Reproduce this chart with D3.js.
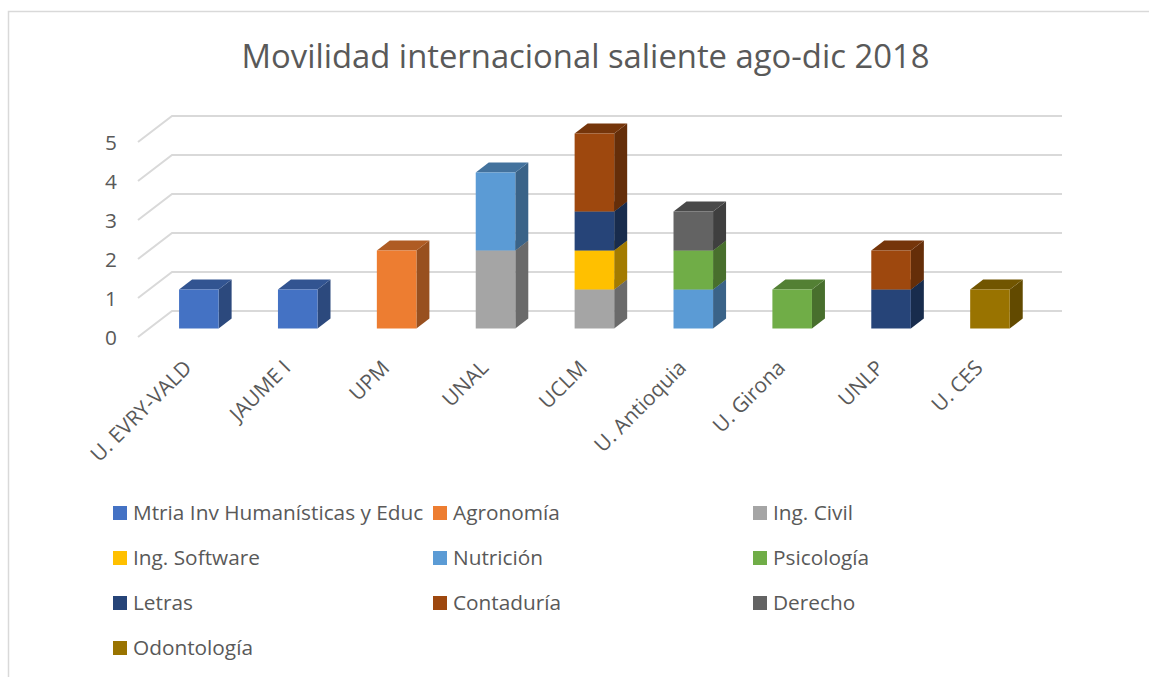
<!DOCTYPE html>
<html><head><meta charset="utf-8"><style>
html,body{margin:0;padding:0;background:#fff}
svg{display:block}
text{font-family:"Open Sans","Noto Sans",sans-serif;fill:#595959}
</style></head><body>
<script src="https://cdn.jsdelivr.net/npm/d3@7"></script>
<script>
const titleText = "Movilidad internacional saliente ago-dic 2018";
const universities = ["U. EVRY-VALD","JAUME I","UPM","UNAL","UCLM","U. Antioquia","U. Girona","UNLP","U. CES"];
const seriesNames = ["Mtria Inv Humanísticas y Educ","Agronomía","Ing. Civil","Ing. Software","Nutrición","Psicología","Letras","Contaduría","Derecho","Odontología"];
const seriesColors = ["#4472c4","#ed7d31","#a5a5a5","#ffc000","#5b9bd5","#70ad47","#264478","#9e480e","#636363","#997300"];
const mtria      = [1,1,0,0,0,0,0,0,0];
const agronomia  = [0,0,2,0,0,0,0,0,0];
const ingCivil   = [0,0,0,2,1,0,0,0,0];
const ingSoft    = [0,0,0,0,1,0,0,0,0];
const nutricion  = [0,0,0,2,0,1,0,0,0];
const psicologia = [0,0,0,0,0,1,1,0,0];
const letras     = [0,0,0,0,1,0,0,1,0];
const contaduria = [0,0,0,0,2,0,0,1,0];
const derecho    = [0,0,0,0,0,1,0,0,0];
const odonto     = [0,0,0,0,0,0,0,0,1];
const seriesValues = [mtria,agronomia,ingCivil,ingSoft,nutricion,psicologia,letras,contaduria,derecho,odonto];
const yTicks = [0,1,2,3,4,5];

const W=1149,H=677;
const svg=d3.select("body").append("svg").attr("width",W).attr("height",H);

// frame
svg.append("path").attr("d","M8.5,677V11.5H1149").attr("fill","none").attr("stroke","#d9d9d9").attr("stroke-width",1.5);

svg.append("text").attr("x",585.5).attr("y",68).attr("text-anchor","middle")
  .style("font-size","32.8px").text(titleText);

// scales (front face plane of the bars)
const depthX=13, depthY=10;
const x=d3.scaleBand().domain(universities).range([149.4,1039.4]).paddingInner(0.6).paddingOuter(0.3);
const y=d3.scaleLinear().domain([0,5]).range([328.5,133.5]);
// wall offsets relative to the bars' front plane
const wallDX=23, wallDY=-17.5, floorDX=-11, floorDY=8.5;
const wallRight=1039+wallDX;

const grid=svg.append("g").attr("stroke","#d9d9d9").attr("stroke-width",2).attr("fill","none");
yTicks.forEach(t=>{
  const yy=y(t);
  grid.append("polyline").attr("points",[
    [149+floorDX,yy+floorDY],[149+wallDX,yy+wallDY],[wallRight,yy+wallDY]
  ].map(p=>p.join(",")).join(" "));
});

// y axis labels
svg.append("g").selectAll("text").data(yTicks).join("text")
  .attr("x",117).attr("text-anchor","end")
  .attr("y",d=>y(d)+floorDY+7.5)
  .style("font-size","20.8px").text(d=>d);

// stacked bars
const rows=universities.map((u,i)=>{const r={u};seriesNames.forEach((s,k)=>r[s]=seriesValues[k][i]);return r;});
const stacked=d3.stack().keys(seriesNames)(rows);
const bars=svg.append("g");
stacked.forEach((layer,k)=>{
  const col=d3.color(seriesColors[k]);
  layer.forEach((seg,i)=>{
    if(seg[1]===seg[0]) return;
    const x0=x(universities[i]), w=x.bandwidth(), yb=y(seg[0]), yt=y(seg[1]);
    const g=bars.append("g");
    // side
    g.append("path").attr("d",`M${x0+w},${yb}L${x0+w+depthX},${yb-depthY}L${x0+w+depthX},${yt-depthY}L${x0+w},${yt}Z`)
      .attr("fill",col.darker(1.25));
    // top
    g.append("path").attr("d",`M${x0},${yt}L${x0+depthX},${yt-depthY}L${x0+w+depthX},${yt-depthY}L${x0+w},${yt}Z`)
      .attr("fill",col.darker(0.85));
    // front
    g.append("rect").attr("x",x0).attr("y",yt).attr("width",w).attr("height",yb-yt).attr("fill",col);
  });
});

// category labels
svg.append("g").selectAll("text").data(universities).join("text")
  .attr("text-anchor","end")
  .attr("transform",d=>`translate(${x(d)+x.bandwidth()/2-11},${364}) rotate(-45)`)
  .attr("dy","0.35em")
  .style("font-size","20.8px").text(d=>d);

// legend
const colX=[114,434,754], rowY=[513,558,603,648];
const leg=svg.append("g").selectAll("g").data(seriesNames).join("g")
  .attr("transform",(d,i)=>`translate(${colX[i%3]},${rowY[Math.floor(i/3)]})`);
leg.append("rect").attr("x",-1).attr("y",-7).attr("width",14).attr("height",14).attr("fill",(d,i)=>seriesColors[i]);
leg.append("text").attr("x",19).attr("y",7).style("font-size","20.8px").text(d=>d);
</script></body></html>
